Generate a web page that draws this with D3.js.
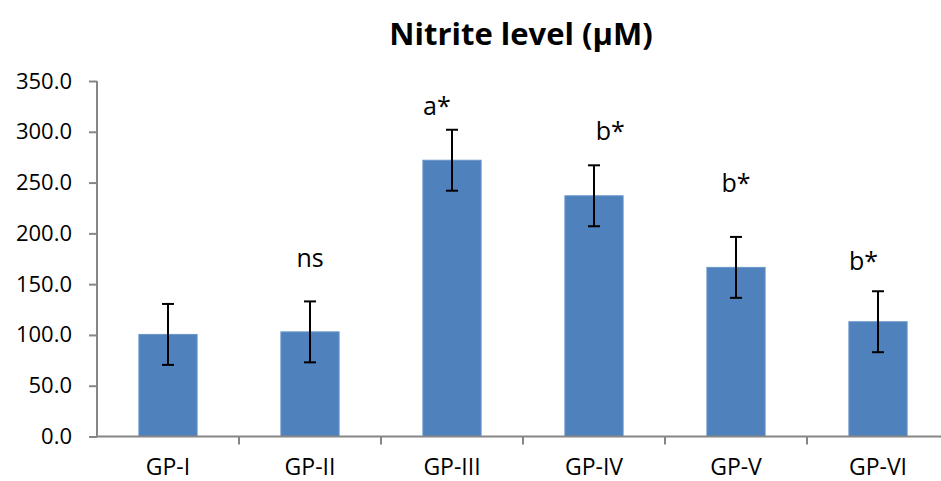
<!DOCTYPE html>
<html lang="en">
<head>
  <meta charset="UTF-8">
  <title>Nitrite level</title>
  <script src="https://d3js.org/d3.v7.min.js"></script>
  <style>
    body { margin: 0; background: #fff; }
    svg { display: block; font-family: 'Open Sans', sans-serif; }
  </style>
</head>
<body>
<svg width="941" height="481"></svg>
<script>
  // data
  var groups = ['GP-I', 'GP-II', 'GP-III', 'GP-IV', 'GP-V', 'GP-VI'];
  var nitrite = [100.5, 103, 272, 237, 166.5, 113];
  var sem = [30, 30, 30, 30, 30, 30];
  var marks = ['', 'ns', 'a*', 'b*', 'b*', 'b*'];
  // height of each mark (in µM) and its shift within the band
  var markLevel = [0, 167, 316.5, 292, 241, 164];
  var markShift = [0, 0, -0.26, 0.28, 0, -0.25];
  var yTicks = [0, 50, 100, 150, 200, 250, 300, 350];

  var svg = d3.select('svg');
  var plotLeft = 97, plotRight = 949, plotTop = 81, plotBottom = 436.5;

  var x = d3.scaleBand()
    .domain(groups)
    .range([plotLeft, plotRight])
    .paddingInner(0.59)
    .paddingOuter(0.295);

  var y = d3.scaleLinear()
    .domain([0, 350])
    .range([plotBottom, plotTop]);

  var rows = groups.map(function (g, i) {
    return {group: g, value: nitrite[i], err: sem[i], mark: marks[i], level: markLevel[i], shift: markShift[i]};
  });

  svg.append('text')
    .attr('x', 521)
    .attr('y', 45)
    .attr('text-anchor', 'middle')
    .attr('font-size', 31)
    .attr('font-weight', 'bold')
    .attr('fill', '#000')
    .text('Nitrite level (µM)');

  // y axis
  var yAxis = svg.append('g')
    .attr('transform', 'translate(' + plotLeft + ',0)')
    .call(d3.axisLeft(y).tickValues(yTicks).tickSize(8).tickPadding(17).tickFormat(d3.format('.1f')));
  yAxis.selectAll('line, path').attr('stroke', '#868686').attr('stroke-width', 2);
  yAxis.select('.domain').attr('d', 'M0,' + plotTop + 'V' + plotBottom);
  yAxis.selectAll('text').attr('font-size', 22).attr('fill', '#000').attr('font-family', "'Open Sans', sans-serif");

  // bars
  svg.append('g').selectAll('rect')
    .data(rows)
    .join('rect')
    .attr('x', function (d) { return x(d.group); })
    .attr('width', x.bandwidth())
    .attr('y', function (d) { return y(d.value); })
    .attr('height', function (d) { return y(0) - y(d.value); })
    .attr('fill', '#4f81bd')
    .attr('stroke', '#6a96cb')
    .attr('stroke-width', 1);

  // x axis
  var xAxis = svg.append('g')
    .attr('transform', 'translate(0,' + plotBottom + ')');
  xAxis.append('line')
    .attr('x1', plotLeft).attr('x2', plotRight)
    .attr('stroke', '#868686').attr('stroke-width', 2);
  xAxis.selectAll('line.tick')
    .data(groups.slice(1))
    .join('line')
    .attr('class', 'tick')
    .attr('x1', function (d) { return x(d) - x.step() * x.paddingInner() / 2; })
    .attr('x2', function (d) { return x(d) - x.step() * x.paddingInner() / 2; })
    .attr('y1', 0).attr('y2', 8)
    .attr('stroke', '#868686').attr('stroke-width', 2);
  xAxis.selectAll('text')
    .data(groups)
    .join('text')
    .attr('x', function (d) { return x(d) + x.bandwidth() / 2; })
    .attr('y', 38)
    .attr('text-anchor', 'middle')
    .attr('font-size', 23)
    .attr('fill', '#000')
    .text(function (d) { return d; });

  // error bars
  var err = svg.append('g').attr('stroke', '#000').attr('stroke-width', 2);
  rows.forEach(function (d) {
    var cx = x(d.group) + x.bandwidth() / 2;
    err.append('line').attr('x1', cx).attr('x2', cx)
      .attr('y1', y(d.value + d.err)).attr('y2', y(d.value - d.err));
    err.append('line').attr('x1', cx - 6).attr('x2', cx + 6)
      .attr('y1', y(d.value + d.err)).attr('y2', y(d.value + d.err));
    err.append('line').attr('x1', cx - 6).attr('x2', cx + 6)
      .attr('y1', y(d.value - d.err)).attr('y2', y(d.value - d.err));
  });

  // significance marks
  svg.append('g').selectAll('text')
    .data(rows.filter(function (d) { return d.mark; }))
    .join('text')
    .attr('x', function (d) { return x(d.group) + x.bandwidth() / 2 + d.shift * x.bandwidth(); })
    .attr('y', function (d) { return y(d.level); })
    .attr('text-anchor', 'middle')
    .attr('font-size', 25)
    .attr('fill', '#000')
    .text(function (d) { return d.mark; });
</script>
</body>
</html>
